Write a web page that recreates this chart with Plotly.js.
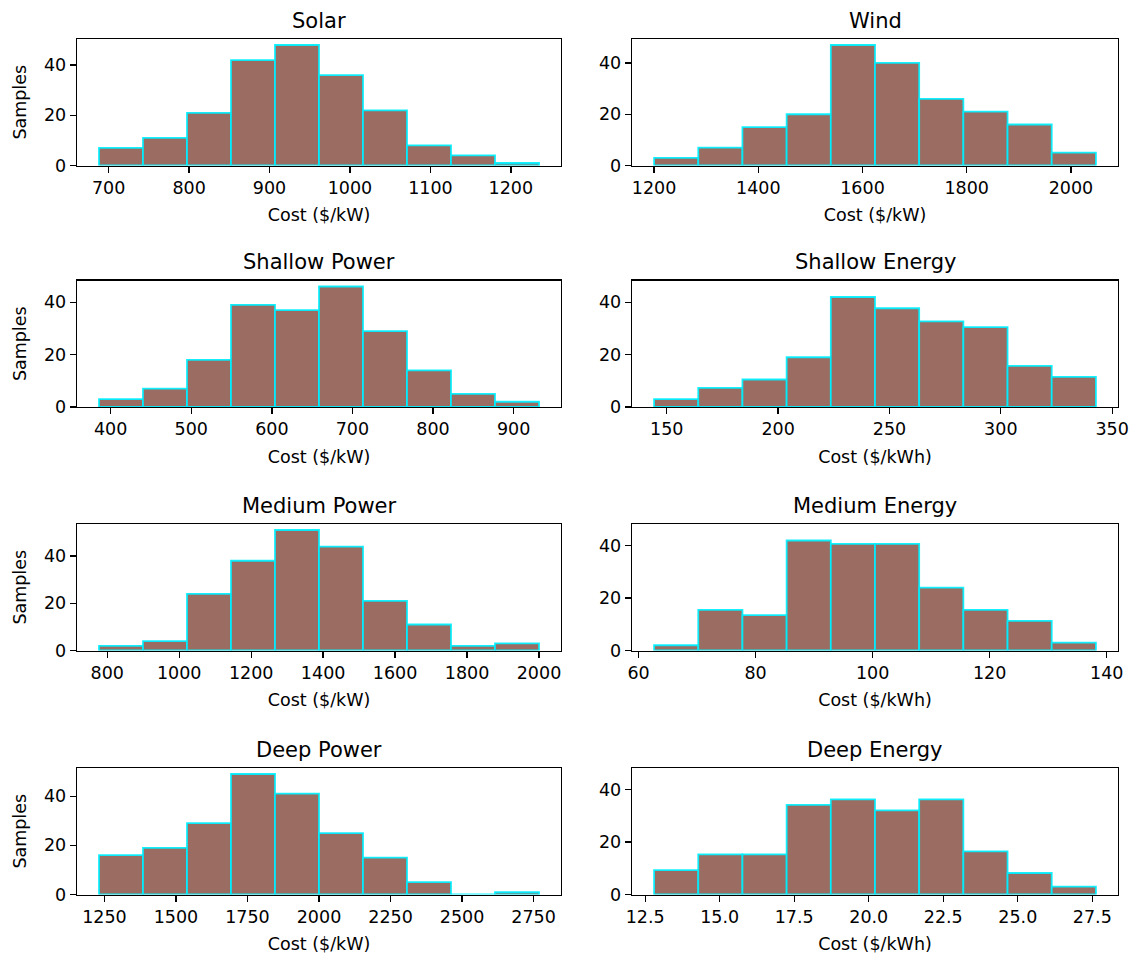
<!DOCTYPE html>
<html>
<head>
<meta charset="utf-8">
<script src="https://cdn.plot.ly/plotly-3.0.1.min.js"></script>
<style>html,body{margin:0;padding:0;background:#fff;}#chart{width:1137px;height:959px;}</style>
</head>
<body>
<div id="chart"></div>
<script>
// ---- Data ----
const panelTitles = ["Solar", "Wind", "Shallow Power", "Shallow Energy", "Medium Power", "Medium Energy", "Deep Power", "Deep Energy"];
const xLabels = ["Cost ($/kW)", "Cost ($/kW)", "Cost ($/kW)", "Cost ($/kWh)", "Cost ($/kW)", "Cost ($/kWh)", "Cost ($/kW)", "Cost ($/kWh)"];

// histogram extent [first bin edge, last bin edge], 10 equal bins each
const solarEdges = [688, 1235];
const windEdges = [1200, 2048];
const shallowPowerEdges = [385.5, 931.5];
const shallowEnergyEdges = [144.3, 342.7];
const mediumPowerEdges = [777, 2000];
const mediumEnergyEdges = [62.66, 138.15];
const deepPowerEdges = [1231, 2769];
const deepEnergyEdges = [12.8, 27.62];

const solarCounts = [7, 11, 21, 42, 48, 36, 22, 8, 4, 1];
const windCounts = [3, 7, 15, 20, 47, 40, 26, 21, 16, 5];
const shallowPowerCounts = [3, 7, 18, 39, 37, 46, 29, 14, 5, 2];
const shallowEnergyCounts = [3, 7.3, 10.5, 19, 42, 37.7, 32.7, 30.5, 15.7, 11.5];
const mediumPowerCounts = [2, 4, 24, 38, 51, 44, 21, 11, 2, 3];
const mediumEnergyCounts = [2, 15.5, 13.5, 42, 40.7, 40.7, 24, 15.5, 11.3, 3];
const deepPowerCounts = [16, 19, 29, 49, 41, 25, 15, 5, 0, 1];
const deepEnergyCounts = [9.3, 15.3, 15.3, 34.2, 36.3, 32.1, 36.3, 16.5, 8.2, 3];

// x tick values
const solarTicks = [700, 800, 900, 1000, 1100, 1200];
const windTicks = [1200, 1400, 1600, 1800, 2000];
const shallowPowerTicks = [400, 500, 600, 700, 800, 900];
const shallowEnergyTicks = [150, 200, 250, 300, 350];
const mediumPowerTicks = [800, 1000, 1200, 1400, 1600, 1800, 2000];
const mediumEnergyTicks = [60, 80, 100, 120, 140];
const deepPowerTicks = [1250, 1500, 1750, 2000, 2250, 2500, 2750];
const deepEnergyTicks = [12.5, 15.0, 17.5, 20.0, 22.5, 25.0, 27.5];
const yTicks = [0, 20, 40];
// upper y limit of the energy panels (shared look in the reference)
const energyYTop = 48.3;

// ---- Build ----
const edgesList = [solarEdges, windEdges, shallowPowerEdges, shallowEnergyEdges, mediumPowerEdges, mediumEnergyEdges, deepPowerEdges, deepEnergyEdges];
const countsList = [solarCounts, windCounts, shallowPowerCounts, shallowEnergyCounts, mediumPowerCounts, mediumEnergyCounts, deepPowerCounts, deepEnergyCounts];
const ticksList = [solarTicks, windTicks, shallowPowerTicks, shallowEnergyTicks, mediumPowerTicks, mediumEnergyTicks, deepPowerTicks, deepEnergyTicks];
const isEnergy = [false, false, false, true, false, true, false, true];

const W = 1137, H = 959;
const colX = [[77, 561], [632, 1118]];
const rowTop = [39, 280.5, 524, 768];
const rowH = 126.5;

const FONT = "DejaVu Sans, Liberation Sans, sans-serif";
const TICK = 17.5, LAB = 17.5, TIT = 21;
const fill = "rgba(140,86,75,0.87)";
const edge = "rgba(0,240,255,0.92)";

const data = [];
const layout = {
  width: W, height: H,
  margin: {l: 0, r: 0, t: 0, b: 0},
  paper_bgcolor: "#fff", plot_bgcolor: "#fff",
  showlegend: false,
  bargap: 0,
  font: {family: FONT, size: TICK, color: "#000"},
  annotations: []
};

for (let i = 0; i < 8; i++) {
  const col = i % 2, row = Math.floor(i / 2);
  const idx = i === 0 ? "" : String(i + 1);
  const xa = "x" + idx, ya = "y" + idx;
  const [lo, hi] = edgesList[i];
  const counts = countsList[i];
  const n = counts.length;
  const bw = (hi - lo) / n;
  const centers = counts.map((_, k) => lo + bw * (k + 0.5));
  data.push({
    type: "bar", x: centers, y: counts, width: counts.map(() => bw),
    xaxis: xa, yaxis: ya,
    marker: {color: fill, line: {color: edge, width: 1.8}},
    hoverinfo: "x+y"
  });
  const span = hi - lo;
  const yTop = isEnergy[i] ? energyYTop : Math.max(...counts) * 1.05;
  const x0 = colX[col][0] / W, x1 = colX[col][1] / W;
  const yb = 1 - (rowTop[row] + rowH) / H, yt = 1 - rowTop[row] / H;
  const axCommon = {
    showline: true, mirror: true, linecolor: "#000", linewidth: 1.3,
    ticks: "outside", ticklen: 6, tickwidth: 1.3, tickcolor: "#000",
    showgrid: false, zeroline: false, fixedrange: true,
    tickfont: {family: FONT, size: TICK, color: "#000"}
  };
  layout["xaxis" + idx] = Object.assign({}, axCommon, {
    domain: [x0, x1], anchor: ya,
    range: [lo - 0.05 * span, hi + 0.05 * span],
    tickmode: "array", tickvals: ticksList[i],
    ticktext: ticksList[i].map(v => i === 7 ? v.toFixed(1) : String(v)),
    title: {text: xLabels[i], font: {family: FONT, size: LAB, color: "#000"}, standoff: 12}
  });
  layout["yaxis" + idx] = Object.assign({}, axCommon, {
    domain: [yb, yt], anchor: xa,
    range: [0, yTop],
    tickmode: "array", tickvals: yTicks,
    title: col === 0 ? {text: "Samples", font: {family: FONT, size: LAB, color: "#000"}, standoff: 12} : {text: ""}
  });
  layout.annotations.push({
    text: panelTitles[i], xref: "paper", yref: "paper",
    x: (x0 + x1) / 2, y: yt, xanchor: "center", yanchor: "bottom",
    yshift: 4, showarrow: false,
    font: {family: FONT, size: TIT, color: "#000"}
  });
}

Plotly.newPlot("chart", data, layout, {displayModeBar: false, staticPlot: true});
</script>
</body>
</html>
